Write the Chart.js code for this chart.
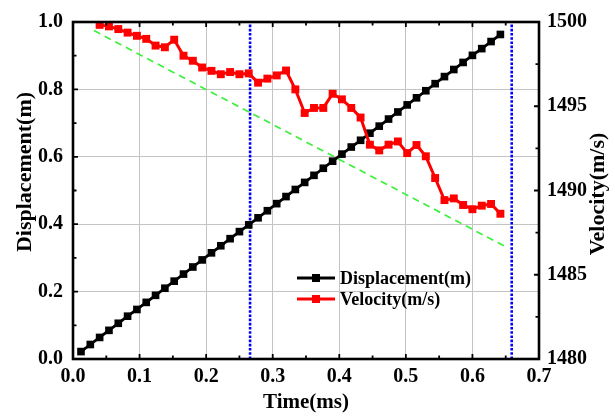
<!DOCTYPE html>
<html>
<head>
<meta charset="utf-8">
<script src="https://cdn.jsdelivr.net/npm/chart.js@4.4.1/dist/chart.umd.min.js"></script>
<style>
  html, body { margin: 0; padding: 0; background: #fff; }
  #wrap { position: relative; width: 615px; height: 416px; }
</style>
</head>
<body>
<div id="wrap"><canvas id="chart"></canvas></div>
<script>
const times = [
  0.012, 0.026, 0.040, 0.054, 0.068, 0.082, 0.096, 0.110, 0.124, 0.138,
  0.152, 0.166, 0.180, 0.194, 0.208, 0.222, 0.236, 0.250, 0.264, 0.278,
  0.292, 0.306, 0.320, 0.334, 0.348, 0.362, 0.376, 0.390, 0.404, 0.418,
  0.432, 0.446, 0.460, 0.474, 0.488, 0.502, 0.516, 0.530, 0.544, 0.558,
  0.572, 0.586, 0.600, 0.614, 0.628, 0.642
]
const displacement = [
  0.022, 0.043, 0.064, 0.085, 0.106, 0.127, 0.147, 0.168, 0.189, 0.210,
  0.231, 0.252, 0.273, 0.294, 0.315, 0.336, 0.357, 0.378, 0.398, 0.419,
  0.440, 0.461, 0.482, 0.503, 0.524, 0.545, 0.566, 0.587, 0.608, 0.629,
  0.649, 0.670, 0.691, 0.712, 0.733, 0.754, 0.775, 0.796, 0.817, 0.838,
  0.859, 0.880, 0.901, 0.921, 0.942, 0.963
]
// velocity starts at the third time sample (earlier ones are above the axis)
const velocityTimes = times.slice(2)
const velocity = [
  1499.83, 1499.74, 1499.58, 1499.37, 1499.18, 1499.00, 1498.60, 1498.50, 1498.95, 1498.00,
  1497.70, 1497.30, 1497.10, 1496.90, 1497.03, 1496.90, 1496.95, 1496.40, 1496.64, 1496.83,
  1497.12, 1496.00, 1494.60, 1494.90, 1494.90, 1495.74, 1495.41, 1494.90, 1494.33, 1492.72,
  1492.38, 1492.72, 1492.91, 1492.22, 1492.70, 1492.03, 1490.74, 1489.43, 1489.53, 1489.14,
  1488.89, 1489.10, 1489.20, 1488.62
]
const trendTimes = [0.0315, 0.648]
const trendVelocity = [1499.49, 1486.7]
const markerTimes = [0.266, 0.659]

const xTicks = [0, 0.1, 0.2, 0.3, 0.4, 0.5, 0.6, 0.7]
const FONT = "'Liberation Serif', 'Times New Roman', serif"

const pts = (xs, ys) => xs.map((x, i) => ({ x, y: ys[i] }))

const vline = t => ({
  label: "marker",
  data: [{ x: t, y: 0 }, { x: t, y: 1 }],
  yAxisID: "y",
  borderColor: "#0000ff",
  borderWidth: 2.6,
  borderDash: [2.6, 1.6],
  pointRadius: 0,
  order: 5
})

const framePlugin = {
  id: "frame",
  afterDraw(chart) {
    const { ctx, chartArea: a, scales } = chart
    ctx.save()
    ctx.strokeStyle = "#000"
    // inward ticks
    ctx.lineWidth = 1.8
    ctx.beginPath()
    for (let i = 0; i <= 14; i++) {
      const x = scales.x.getPixelForValue(i * 0.05)
      const len = i % 2 === 0 ? 5 : 3.5
      ctx.moveTo(x, a.bottom); ctx.lineTo(x, a.bottom - len)
      ctx.moveTo(x, a.top); ctx.lineTo(x, a.top + len)
    }
    for (let i = 0; i <= 10; i++) {
      const y = scales.y.getPixelForValue(i * 0.1)
      const len = i % 2 === 0 ? 5 : 3.5
      ctx.moveTo(a.left, y); ctx.lineTo(a.left + len, y)
    }
    for (let i = 0; i <= 8; i++) {
      const y = scales.y2.getPixelForValue(1480 + i * 2.5)
      const len = i % 2 === 0 ? 5 : 3.5
      ctx.moveTo(a.right, y); ctx.lineTo(a.right - len, y)
    }
    ctx.stroke()
    // frame
    ctx.lineWidth = 2.6
    ctx.strokeRect(a.left, a.top, a.right - a.left, a.bottom - a.top)

    // axis titles
    ctx.fillStyle = "#000"
    ctx.font = "bold 21px " + FONT
    ctx.textAlign = "center"
    ctx.textBaseline = "middle"
    ctx.fillText("Time(ms)", (a.left + a.right) / 2, 403)
    ctx.font = "bold 22px " + FONT
    ctx.save()
    ctx.translate(25, 172)
    ctx.rotate(-Math.PI / 2)
    ctx.fillText("Displacement(m)", 0, 0)
    ctx.restore()
    ctx.save()
    ctx.translate(598, 194)
    ctx.rotate(-Math.PI / 2)
    ctx.fillText("Velocity(m/s)", 0, 0)
    ctx.restore()

    // legend
    const items = [
      { text: "Displacement(m)", color: "#000", y: 278 },
      { text: "Velocity(m/s)", color: "#ff0000", y: 299 }
    ]
    ctx.font = "bold 18px " + FONT
    ctx.textAlign = "left"
    items.forEach(it => {
      ctx.strokeStyle = it.color
      ctx.fillStyle = it.color
      ctx.lineWidth = 2.8
      ctx.beginPath()
      ctx.moveTo(297, it.y); ctx.lineTo(335, it.y)
      ctx.stroke()
      ctx.fillRect(312, it.y - 4, 8, 8)
      ctx.fillStyle = "#000"
      ctx.fillText(it.text, 340, it.y + 1)
    })
    ctx.restore()
  }
}

new Chart(document.getElementById("chart"), {
  type: "line",
  data: {
    datasets: [
      vline(markerTimes[0]),
      vline(markerTimes[1]),
      {
        label: "trend",
        data: pts(trendTimes, trendVelocity),
        yAxisID: "y2",
        borderColor: "#3df03d",
        borderWidth: 1.7,
        borderDash: [7, 5],
        pointRadius: 0,
        order: 4
      },
      {
        label: "Displacement(m)",
        data: pts(times, displacement),
        yAxisID: "y",
        borderColor: "#000",
        backgroundColor: "#000",
        borderWidth: 2.8,
        pointStyle: "rect",
        pointRadius: 5.4,
        pointBorderWidth: 0,
        order: 2
      },
      {
        label: "Velocity(m/s)",
        data: pts(velocityTimes, velocity),
        yAxisID: "y2",
        borderColor: "#ff0000",
        backgroundColor: "#ff0000",
        borderWidth: 3,
        pointStyle: "rect",
        pointRadius: 5.6,
        pointBorderWidth: 0,
        order: 1
      }
    ]
  },
  options: {
    responsive: true,
    maintainAspectRatio: false,
    animation: false,
    layout: { padding: { top: 13, left: 0, right: 0, bottom: 0 } },
    plugins: { legend: { display: false }, tooltip: { enabled: false } },
    elements: { line: { tension: 0 } },
    scales: {
      x: {
        type: "linear",
        min: 0, max: 0.7,
        afterBuildTicks: s => { s.ticks = xTicks.map(v => ({ value: v })) },
        afterFit: s => { s.height = 57 },
        grid: { color: "#c4c4c4", lineWidth: 1, drawTicks: false },
        border: { display: false },
        ticks: {
          padding: 6,
          color: "#000",
          maxRotation: 0,
          autoSkip: false,
          font: { family: FONT, size: 20, weight: "bold" },
          callback: v => v.toFixed(1)
        }
      },
      y: {
        position: "left",
        min: 0, max: 1,
        afterFit: s => { s.width = 73 },
        grid: { color: "#c4c4c4", lineWidth: 1, drawTicks: false },
        border: { display: false },
        ticks: {
          stepSize: 0.2,
          padding: 10,
          color: "#000",
          font: { family: FONT, size: 20, weight: "bold" },
          callback: v => v.toFixed(1)
        }
      },
      y2: {
        position: "right",
        min: 1480, max: 1500,
        afterFit: s => { s.width = 76 },
        grid: { display: false, drawTicks: false },
        border: { display: false },
        ticks: {
          stepSize: 5,
          padding: 8,
          color: "#000",
          font: { family: FONT, size: 20, weight: "bold" },
          callback: v => String(v)
        }
      }
    }
  },
  plugins: [framePlugin]
})
</script>
</body>
</html>
